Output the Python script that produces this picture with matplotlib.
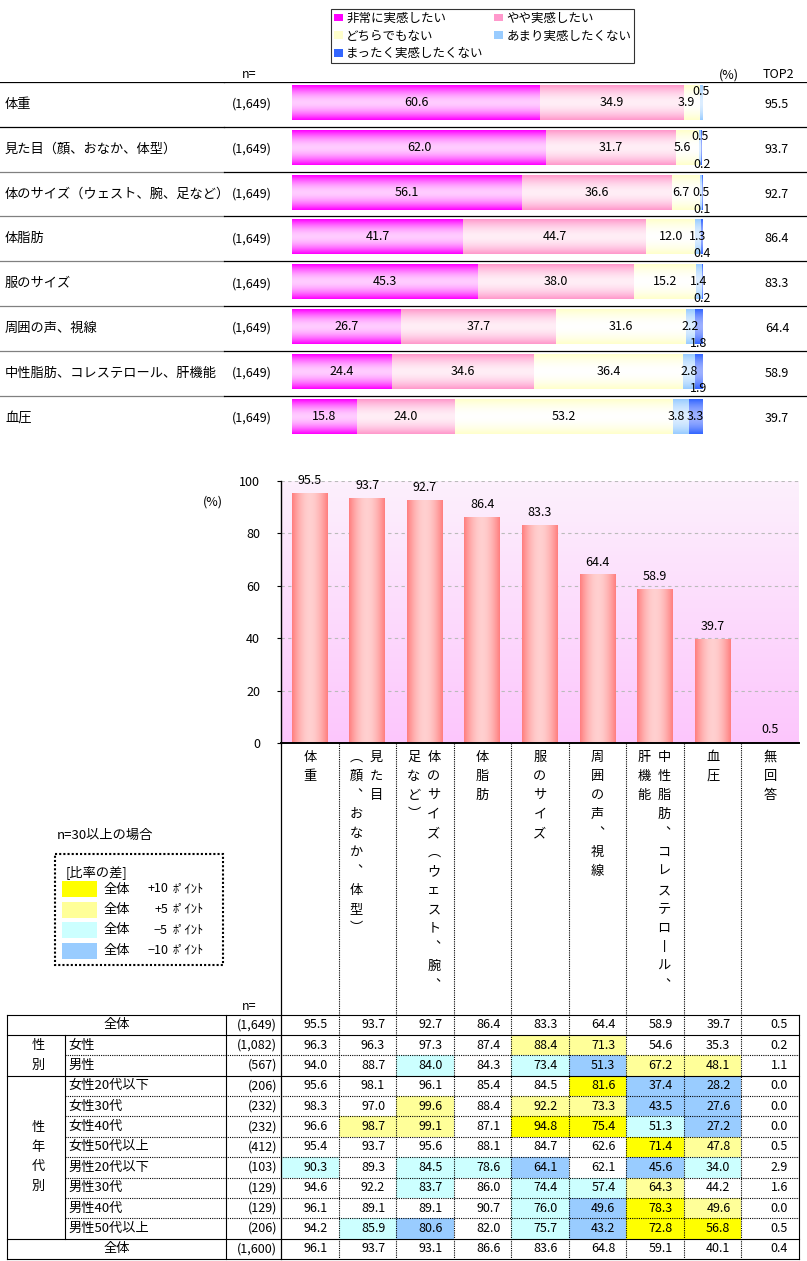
import numpy as np
import matplotlib
matplotlib.use("Agg")
import matplotlib.pyplot as plt
from matplotlib.patches import Rectangle
from matplotlib.colors import to_rgb

plt.rcParams['font.family'] = ['Noto Sans CJK JP', 'DejaVu Sans']

W, H = 807, 1261

# --- Data ---
LEVELS = ['非常に実感したい', 'やや実感したい', 'どちらでもない',
          'あまり実感したくない', 'まったく実感したくない']
# '\n' marks where the vertical x label wraps into a second column
ITEMS = ['体重', '見た目\n（顔、おなか、体型）', '体のサイズ（ウェスト、腕、\n足など）',
         '体脂肪', '服のサイズ', '周囲の声、視線', '中性脂肪、コレステロール、\n肝機能',
         '血圧', '無回答']
TOP_N = ['(1,649)'] * 8
very = [60.6, 62.0, 56.1, 41.7, 45.3, 26.7, 24.4, 15.8]
some = [34.9, 31.7, 36.6, 44.7, 38.0, 37.7, 34.6, 24.0]
neutral = [3.9, 5.6, 6.7, 12.0, 15.2, 31.6, 36.4, 53.2]
not_much = [0.5, 0.5, 0.5, 1.3, 1.4, 2.2, 2.8, 3.8]
not_at_all = [0.0, 0.2, 0.1, 0.4, 0.2, 1.8, 1.9, 3.3]
top2 = [95.5, 93.7, 92.7, 86.4, 83.3, 64.4, 58.9, 39.7]

ROW_LABELS = ['全体', '女性', '男性', '女性20代以下', '女性30代', '女性40代', '女性50代以上',
              '男性20代以下', '男性30代', '男性40代', '男性50代以上', '全体']
ROW_N = ['(1,649)', '(1,082)', '(567)', '(206)', '(232)', '(232)', '(412)',
         '(103)', '(129)', '(129)', '(206)', '(1,600)']
GROUP_LABELS = ['性別', '性年代別']
TABLE = [
    [95.5, 93.7, 92.7, 86.4, 83.3, 64.4, 58.9, 39.7, 0.5],
    [96.3, 96.3, 97.3, 87.4, 88.4, 71.3, 54.6, 35.3, 0.2],
    [94.0, 88.7, 84.0, 84.3, 73.4, 51.3, 67.2, 48.1, 1.1],
    [95.6, 98.1, 96.1, 85.4, 84.5, 81.6, 37.4, 28.2, 0.0],
    [98.3, 97.0, 99.6, 88.4, 92.2, 73.3, 43.5, 27.6, 0.0],
    [96.6, 98.7, 99.1, 87.1, 94.8, 75.4, 51.3, 27.2, 0.0],
    [95.4, 93.7, 95.6, 88.1, 84.7, 62.6, 71.4, 47.8, 0.5],
    [90.3, 89.3, 84.5, 78.6, 64.1, 62.1, 45.6, 34.0, 2.9],
    [94.6, 92.2, 83.7, 86.0, 74.4, 57.4, 64.3, 44.2, 1.6],
    [96.1, 89.1, 89.1, 90.7, 76.0, 49.6, 78.3, 49.6, 0.0],
    [94.2, 85.9, 80.6, 82.0, 75.7, 43.2, 72.8, 56.8, 0.5],
    [96.1, 93.7, 93.1, 86.6, 83.6, 64.8, 59.1, 40.1, 0.4],
]
# Y: +10pt, y: +5pt, c: -5pt, b: -10pt vs 全体
HIGHLIGHT = ['.........', '....yy...', '..c.cbyy.', '.....Ybb.', '..y.yybb.', '.yy.YYcb.',
             '......Yy.', 'c.ccb.bc.', '..c.ccy..', '....cbYy.', '.cb.cbYY.', '.........']
HL_CODES = ['Y', 'y', 'c', 'b']
HL_TEXT = ['+10', '+5', '−5', '−10']

# --- Styles ---
HL_COLORS = {'Y': '#FFFF00', 'y': '#FFFF99', 'c': '#CCFFFF', 'b': '#99CCFF'}
SEG_COLORS = [('#FF00FF', '#FFCCFF'), ('#FF99CC', '#FFEEF6'), ('#FFFFCC', '#FFFFFF'),
              ('#99CCFF', '#DDEEFF'), ('#3366FF', '#9CB0FF')]
VERT = {'（': '︵', '）': '︶', '、': '︑', 'ー': '丨'}


def frac(x0, y0, x1, y1):
    return [x0 / W, 1 - y1 / H, (x1 - x0) / W, (y1 - y0) / H]


def shade(ax, bars, c_edge, c_mid, along):
    # cylinder-like gradient clipped to each bar
    t = np.linspace(0, 1, 48)
    w = 1 - np.abs(2 * t - 1) ** 1.8
    ce, cm = np.array(to_rgb(c_edge)), np.array(to_rgb(c_mid))
    grad = ce[None, :] * (1 - w[:, None]) + cm[None, :] * w[:, None]
    img = grad[:, None, :] if along == 'y' else grad[None, :, :]
    for p in bars.patches:
        x0, y0 = p.get_xy()
        pw, ph = p.get_width(), p.get_height()
        if pw == 0 or ph == 0:
            continue
        im = ax.imshow(img, extent=(x0, x0 + pw, y0, y0 + ph), origin='lower',
                       aspect='auto', interpolation='bilinear', zorder=p.get_zorder() + 0.01)
        im.set_clip_path(p)


fig = plt.figure(figsize=(W / 100, H / 100), dpi=100)
ov = fig.add_axes([0, 0, 1, 1], zorder=10)
ov.set_xlim(0, W)
ov.set_ylim(H, 0)
ov.axis('off')

# ==========================================
# 1. STACKED BARS (top)
# ==========================================
PX_PER, X0_TOP = 4.1, 292
ROW_TOP, ROW_H = 82, 44.8


def tx_top(px):
    return (px - X0_TOP) / PX_PER


ax_top = fig.add_axes(frac(0, ROW_TOP, W, ROW_TOP + 8 * ROW_H))
series = [very, some, neutral, not_much, not_at_all]
y = np.arange(8) + 0.458
left = np.zeros(8)
containers = []
for k, (vals, (ce, cm)) in enumerate(zip(series, SEG_COLORS)):
    vals = np.array(vals)
    bc = ax_top.barh(y, vals, left=left, height=0.78, color=ce, linewidth=0, zorder=2)
    shade(ax_top, bc, ce, cm, 'y')
    containers.append(bc)
    for i, v in enumerate(vals):
        if v <= 0:
            continue
        xc = left[i] + v / 2
        dy = 0
        if k == 2 and v < 8:
            xc -= 5 / PX_PER
        if k == 3:
            if neutral[i] < 6:
                dy = -11 / ROW_H
            elif not_at_all[i] >= 3:
                xc -= 5 / PX_PER
        if k == 4 and v < 3:
            dy = 17 / ROW_H
        ax_top.text(xc, y[i] + dy, f'{v:.1f}', ha='center', va='center', fontsize=9, zorder=5)
    left = left + vals

for i in range(8):
    ax_top.text(tx_top(5), i + 0.5, ITEMS[i].replace('\n', ''), ha='left', va='center', fontsize=9.5)
    ax_top.text(tx_top(272), i + 0.5, TOP_N[i], ha='right', va='center', fontsize=9)
    ax_top.text(tx_top(777), i + 0.5, f'{top2[i]:.1f}', ha='center', va='center', fontsize=9)
    split = 224 / W
    ax_top.axhline(i, 0, split, color='black' if i < 2 else '#808080', lw=0.9)
    ax_top.axhline(i, split, 1, color='black', lw=0.9)
ax_top.set_xlim(tx_top(0), tx_top(W))
ax_top.set_ylim(8, 0)
ax_top.axis('off')

ov.text(249, 75, 'n=', ha='center', va='center', fontsize=9)
ov.text(729, 75, '(%)', ha='center', va='center', fontsize=9)
ov.text(778, 75, 'TOP2', ha='center', va='center', fontsize=9)

order = [0, 2, 4, 1, 3]
leg = fig.legend([containers[o] for o in order], [LEVELS[o] for o in order],
                 loc='upper left', bbox_to_anchor=(331 / W, 1 - 63 / H, 303 / W, 54 / H),
                 mode='expand', ncol=2, borderaxespad=0, frameon=True, fancybox=False,
                 edgecolor='black', fontsize=9, handlelength=0.7, handleheight=0.55,
                 handletextpad=0.3, labelspacing=0.38, borderpad=0.22)
leg.get_frame().set_linewidth(0.8)

# ==========================================
# 2. TOTAL BAR CHART (middle)
# ==========================================
ax_bar = fig.add_axes(frac(281, 481, 799, 743))
totals = TABLE[0]
xs = np.arange(len(totals))
bg = np.array([to_rgb('#FCC6FC'), to_rgb('#FDF0FD')])
bg_img = np.linspace(bg[0], bg[1], 64)[:, None, :]
ax_bar.imshow(bg_img, extent=(-0.5, 8.5, 0, 100), origin='lower', aspect='auto', zorder=0.1)
bars = ax_bar.bar(xs, totals, width=0.625, color='#FF8080', linewidth=0, zorder=2)
shade(ax_bar, bars, '#FF7F7F', '#FFD0D0', 'x')
for xi, v in zip(xs, totals):
    ax_bar.text(xi, v + 2.2, f'{v:.1f}', ha='center', va='bottom', fontsize=9, clip_on=False)
ax_bar.set_xlim(-0.5, 8.5)
ax_bar.set_ylim(0, 100)
ax_bar.set_yticks(range(0, 101, 20))
ax_bar.set_xticks([])
ax_bar.yaxis.grid(True, linestyle=(0, (3, 3)), color='#BBBBBB', lw=0.8)
ax_bar.set_axisbelow(True)
for s in ['top', 'right']:
    ax_bar.spines[s].set_visible(False)
ax_bar.spines['left'].set_linewidth(1.0)
ax_bar.spines['bottom'].set_linewidth(1.4)
ax_bar.tick_params(axis='y', length=3, width=0.8, pad=12, labelsize=9)
ov.text(213, 502, '(%)', ha='center', va='center', fontsize=9)

# ==========================================
# 3. LABEL AREA + TABLE (bottom)
# ==========================================
CW = (799 - 281) / 9
T_TOP, RH = 1014.5, (1259 - 1014.5) / 12


def tx(px):
    return (px - 281) / CW


def ty(px):
    return (px - T_TOP) / RH


ax_tab = fig.add_axes(frac(7, T_TOP, 799, 1259))
ax_tab.set_xlim(tx(7), 9)
ax_tab.set_ylim(12, 0)
ax_tab.axis('off')

# vertical x labels (right-to-left columns)
for j, lab in enumerate(ITEMS):
    cols = lab.split('\n')
    offs = [0] if len(cols) == 1 else [9 / CW, -11 / CW]
    for col, off in zip(cols, offs):
        for m, ch in enumerate(col):
            ax_tab.text(j + 0.5 + off, ty(757.5 + 19 * m), VERT.get(ch, ch), ha='center',
                        va='center', fontsize=9.5, clip_on=False)
ax_tab.text(tx(249), ty(1007), 'n=', ha='center', va='center', fontsize=9, clip_on=False)

# column separators
for k in range(9):
    ax_tab.plot([k, k], [ty(743), 12], color='black', clip_on=False,
                lw=0.9 if k == 0 else 0.8, ls='-' if k == 0 else (0, (1, 1)))
ax_tab.plot([9, 9], [0, 12], color='black', lw=0.8, clip_on=False)

# highlighted cells
for i, code in enumerate(HIGHLIGHT):
    for j, c in enumerate(code):
        if c != '.':
            ax_tab.add_patch(Rectangle((j, i), 1, 1, facecolor=HL_COLORS[c], lw=0, zorder=0))

# values
for i, row in enumerate(TABLE):
    for j, v in enumerate(row):
        ax_tab.text(j + 1 - 0.19, i + 0.5, f'{v:.1f}', ha='right', va='center', fontsize=9)
    ax_tab.text(tx(277), i + 0.5, ROW_N[i], ha='right', va='center', fontsize=9)
    if i in (0, len(TABLE) - 1):
        ax_tab.text(tx(116.5), i + 0.5, ROW_LABELS[i], ha='center', va='center', fontsize=9.5)
    else:
        ax_tab.text(tx(68), i + 0.5, ROW_LABELS[i], ha='left', va='center', fontsize=9.5)

# group labels
for glab, (r0, r1) in zip(GROUP_LABELS, [(1, 3), (3, 11)]):
    mid = (r0 + r1) / 2
    pitch = 1.0 if len(glab) == 2 else 19.7 / RH
    for m, ch in enumerate(glab):
        ax_tab.text(tx(38), mid + (m - (len(glab) - 1) / 2) * pitch, ch, ha='center',
                    va='center', fontsize=9.5)

# table rules
for yy in [0, 1, 3, 11, 12]:
    ax_tab.plot([tx(7), 9], [yy, yy], color='black', lw=0.8, clip_on=False)
for yy in [2, 4, 5, 6, 7, 8, 9, 10]:
    ax_tab.plot([tx(65), 9], [yy, yy], color='black', lw=0.8, ls=(0, (1, 1)), clip_on=False)
ax_tab.plot([tx(7), tx(7)], [0, 12], color='black', lw=0.8, clip_on=False)
ax_tab.plot([tx(65), tx(65)], [1, 11], color='black', lw=0.8, clip_on=False)
ax_tab.plot([tx(226), tx(226)], [0, 12], color='black', lw=0.8, clip_on=False)

# highlight legend box
ov.text(57, 835, 'n=30以上の場合', ha='left', va='center', fontsize=9.5)
ov.add_patch(Rectangle((55, 854), 168, 111, fill=False, ec='black', lw=1.5, ls=(0, (1, 1))))
ov.text(66, 872, '[比率の差]', ha='left', va='center', fontsize=9.5)
for m, (code, txt) in enumerate(zip(HL_CODES, HL_TEXT)):
    yc = 889 + 20.5 * m
    ov.add_patch(Rectangle((62, yc - 8), 35, 16, facecolor=HL_COLORS[code], lw=0))
    ov.text(104, yc, '全体', ha='left', va='center', fontsize=9.5)
    ov.text(168, yc, txt, ha='right', va='center', fontsize=9)
    ov.text(173, yc, 'ﾎﾟｲﾝﾄ', ha='left', va='center', fontsize=9)

fig.savefig('out.png', dpi=100)
